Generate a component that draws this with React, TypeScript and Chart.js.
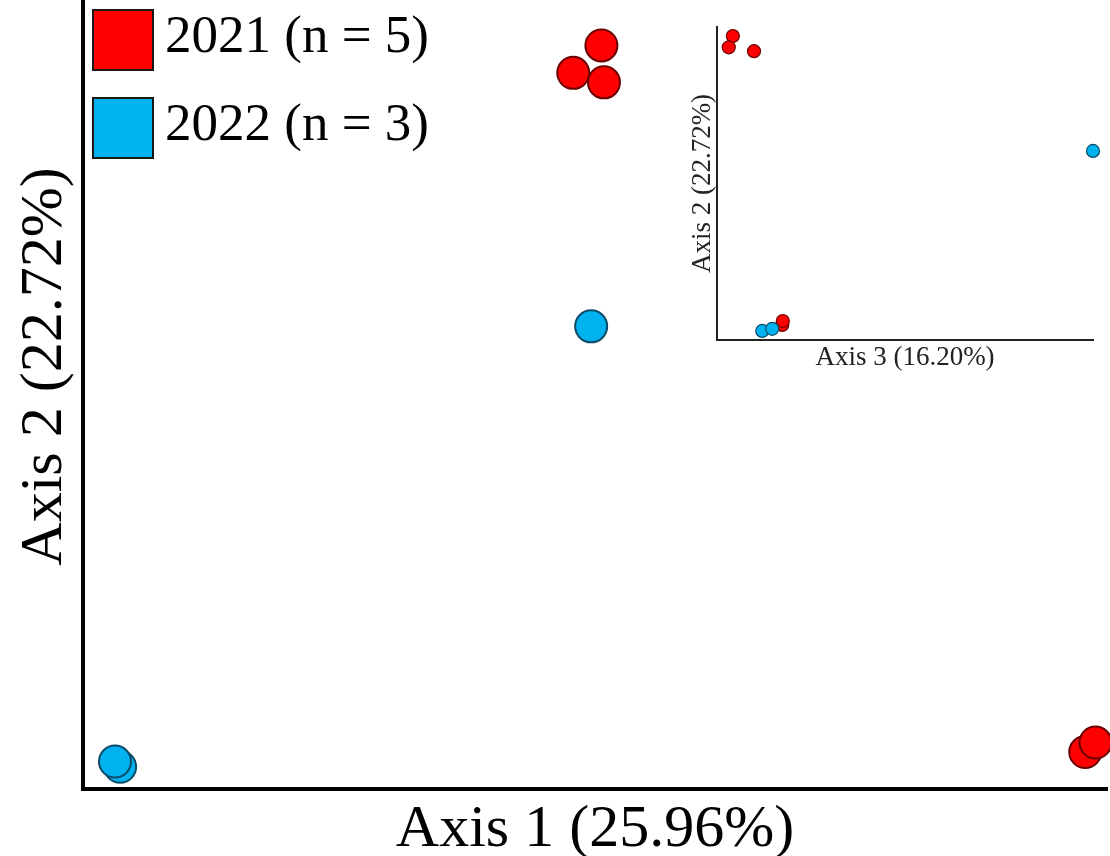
import { useEffect, useRef } from 'react';
import { Chart, registerables } from 'chart.js';

Chart.register(...registerables);

// Sample groups
const groupLabels = ['2021 (n = 5)', '2022 (n = 3)'];
const groupFill = ['#ff0000', '#00b2f0'];
const groupEdge = ['#6a0000', '#0a4c68'];

// PCoA coordinates per sample (Axis 1, Axis 2, Axis 3)
const axis1_2021 = [0.005, -0.017, 0.007, 0.383, 0.391];
const axis2_2021 = [0.304, 0.278, 0.269, -0.365, -0.356];
const axis3_2021 = [-0.093, -0.1, -0.057, -0.009, -0.008];

const axis1_2022 = [-0.003, -0.371, -0.375];
const axis2_2022 = [0.038, -0.379, -0.374];
const axis3_2022 = [0.52, -0.043, -0.026];

// Axis titles
const mainXTitle = 'Axis 1 (25.96%)';
const mainYTitle = 'Axis 2 (22.72%)';
const insetXTitle = 'Axis 3 (16.20%)';
const insetYTitle = 'Axis 2 (22.72%)';

const SERIF = '"Liberation Serif", "Times New Roman", serif';

const pairs = (xs: number[], ys: number[]) => xs.map((x, i) => ({ x, y: ys[i] }));

// Draws the square legend in the upper-left corner of the plot area
const groupLegend = {
  id: 'groupLegend',
  afterDraw(chart: any) {
    const { ctx, chartArea } = chart;
    ctx.save();
    chart.data.datasets.forEach((ds: any, i: number) => {
      const bx = chartArea.left + 10;
      const by = chartArea.top + 66 + i * 88;
      ctx.fillStyle = ds.backgroundColor;
      ctx.fillRect(bx, by, 60, 60);
      ctx.lineWidth = 2;
      ctx.strokeStyle = '#1a1a1a';
      ctx.strokeRect(bx, by, 60, 60);
      ctx.fillStyle = '#000';
      ctx.font = `53px ${SERIF}`;
      ctx.textBaseline = 'middle';
      ctx.textAlign = 'left';
      ctx.fillText(ds.label, bx + 72, by + 28);
    });
    ctx.restore();
  },
};

const hiddenGrid = { display: false, drawTicks: false, tickLength: 0 };

function makeDatasets(radius: number, edge: number, xs2021: number[], xs2022: number[]) {
  return [
    {
      label: groupLabels[0],
      data: pairs(xs2021, axis2_2021),
      backgroundColor: groupFill[0],
      borderColor: groupEdge[0],
      borderWidth: edge,
      pointRadius: radius,
      pointHoverRadius: radius,
      order: 1,
      clip: false as any,
    },
    {
      label: groupLabels[1],
      data: pairs(xs2022, axis2_2022),
      backgroundColor: groupFill[1],
      borderColor: groupEdge[1],
      borderWidth: edge,
      pointRadius: radius,
      pointHoverRadius: radius,
      order: 0,
      clip: false as any,
    },
  ];
}

export default function App() {
  const mainRef = useRef<HTMLCanvasElement | null>(null);
  const insetRef = useRef<HTMLCanvasElement | null>(null);

  useEffect(() => {
    if (!mainRef.current || !insetRef.current) return;

    const main = new Chart(mainRef.current, {
      type: 'scatter',
      data: { datasets: makeDatasets(16, 2, axis1_2021, axis1_2022) as any },
      options: {
        responsive: false,
        animation: false,
        events: [],
        layout: { padding: { left: 0, right: 3, top: 0, bottom: 0 }, autoPadding: false },
        plugins: { legend: { display: false }, tooltip: { enabled: false } },
        scales: {
          x: {
            type: 'linear',
            position: 'bottom',
            min: -0.4,
            max: 0.4,
            grid: hiddenGrid,
            ticks: { display: false },
            border: { display: true, color: '#000', width: 4 },
            title: {
              display: true,
              text: mainXTitle,
              color: '#000',
              font: { family: SERIF, size: 60, lineHeight: '48px' },
              padding: { top: 17, bottom: 2 },
            },
          },
          y: {
            type: 'linear',
            position: 'left',
            min: -0.4,
            max: 0.4,
            grid: hiddenGrid,
            ticks: { display: false },
            border: { display: true, color: '#000', width: 4 },
            title: {
              display: true,
              text: mainYTitle,
              color: '#000',
              font: { family: SERIF, size: 60, lineHeight: '72px' },
              padding: { top: 9, bottom: 2 },
            },
          },
        },
      },
      plugins: [groupLegend],
    });

    const inset = new Chart(insetRef.current, {
      type: 'scatter',
      data: { datasets: makeDatasets(6.5, 1.2, axis3_2021, axis3_2022) as any },
      options: {
        responsive: false,
        animation: false,
        events: [],
        layout: { padding: { left: 0, right: 17, top: 7, bottom: 0 }, autoPadding: false },
        plugins: { legend: { display: false }, tooltip: { enabled: false } },
        scales: {
          x: {
            type: 'linear',
            position: 'bottom',
            min: -0.12,
            max: 0.52,
            grid: hiddenGrid,
            ticks: { display: false },
            border: { display: true, color: '#222', width: 2 },
            title: {
              display: true,
              text: insetXTitle,
              color: '#222',
              font: { family: SERIF, size: 27, lineHeight: '28px' },
              padding: { top: 4, bottom: 8 },
            },
          },
          y: {
            type: 'linear',
            position: 'left',
            min: -0.4,
            max: 0.325,
            grid: hiddenGrid,
            ticks: { display: false },
            border: { display: true, color: '#222', width: 2 },
            title: {
              display: true,
              text: insetYTitle,
              color: '#222',
              font: { family: SERIF, size: 27, lineHeight: '28px' },
              padding: { top: 9, bottom: 0 },
            },
          },
        },
      },
    });

    return () => {
      main.destroy();
      inset.destroy();
    };
  }, []);

  return (
    <div
      style={{
        position: 'fixed',
        left: 0,
        top: 0,
        width: 1110,
        height: 856,
        overflow: 'hidden',
        background: '#fff',
      }}
    >
      <canvas
        ref={mainRef}
        width={1110}
        height={912}
        style={{ position: 'absolute', left: 0, top: -56 }}
      />
      <canvas
        ref={insetRef}
        width={430}
        height={360}
        style={{ position: 'absolute', left: 680, top: 20 }}
      />
    </div>
  );
}
